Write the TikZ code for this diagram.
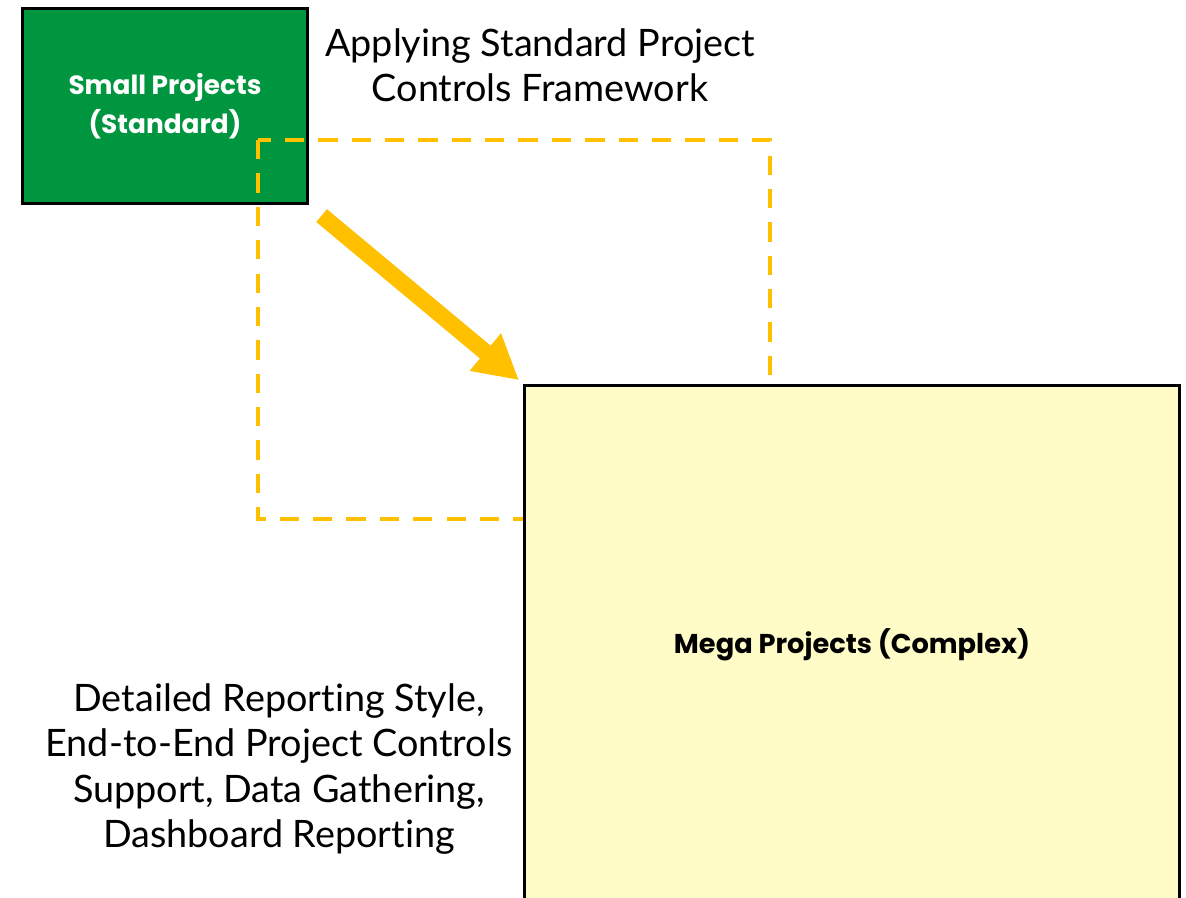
\documentclass[tikz,border=0pt]{standalone}
\usepackage{fontspec}
\setmainfont{Lato}[Ligatures=NoCommon]
\newfontfamily\boxfont{Poppins}
\usetikzlibrary{arrows.meta}

\definecolor{smallgreen}{RGB}{0,150,64}
\definecolor{megayellow}{RGB}{255,252,200}
\definecolor{flowamber}{RGB}{255,192,0}

\begin{document}
\begin{tikzpicture}[x=0.02cm,y=-0.02cm]
		\useasboundingbox (0,0) rectangle (1186,898);

		\begin{scope}[every node/.style={rectangle,draw=black,line width=1.7pt,
		              align=center,font=\boxfont\bfseries\fontsize{15}{22.5}\selectfont}]
		    \node[fill=smallgreen,text=white,minimum width=5.72cm,minimum height=3.92cm] (small) at (165,106) {Small Projects\\(Standard)};
		\end{scope}

		% dashed frame, sits over the green box and under the yellow one
		\draw[flowamber,line width=2.3pt,dash pattern=on 11pt off 8pt] (258,140) rectangle (770,519);

		\begin{scope}[every node/.style={rectangle,draw=black,line width=1.7pt,
		              align=center,font=\boxfont\bfseries\fontsize{15.5}{22}\selectfont}]
		    \node[fill=megayellow,minimum width=13.1cm,minimum height=10.4cm] (mega) at (852,645) {Mega Projects (Complex)};
		\end{scope}

		\begin{scope}[every node/.style={align=center,font=\fontsize{21.5}{25.8}\selectfont}]
		    \node (apply) at (540,65) {Applying Standard Project\\Controls Framework};
		    \node (detail) at (279,769) {Detailed Reporting Style,\\End-to-End Project Controls\\Support, Data Gathering,\\Dashboard Reporting};
		\end{scope}

		\draw[flowamber,line width=9.5pt,-{Triangle[length=25pt,width=26pt]},
		      shorten <=9pt,shorten >=3pt] (small.south east) -- (mega.north west);
		\end{tikzpicture}
\end{document}
